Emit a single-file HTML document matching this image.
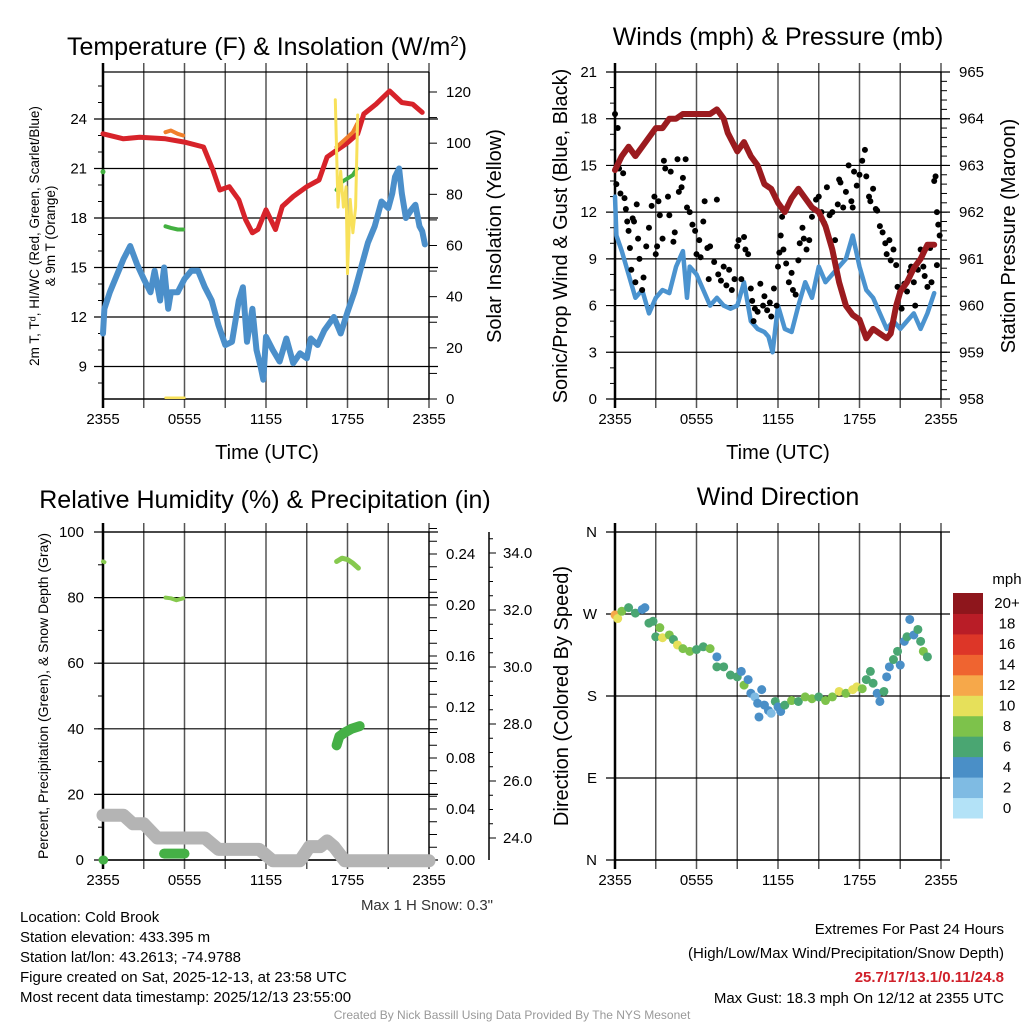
<!DOCTYPE html>
<html><head><meta charset="utf-8"><style>
body{margin:0;background:#fff}
svg{display:block;font-family:"Liberation Sans",Arial,sans-serif}
</style></head><body>
<svg id="fig" width="1024" height="1024" viewBox="0 0 1024 1024" xmlns="http://www.w3.org/2000/svg">
<rect width="1024" height="1024" fill="#fff"/>
<g id="layer"></g>
</svg>
<script>
// ---------- DATA ----------
const xTickLabels = ["2355","0555","1155","1755","2355"];
// Panel 1: temperature
const tempHours = [0,1.5,2.7,4.6,6,7.4,8.1,8.6,9.3,10,10.5,11,11.4,12,12.7,13.2,14,15,15.9,16.5,17.2,17.9,18.75,19.2,20.1,21.1,22,22.8,23.5];
const tempVals  = [23.1,22.8,22.9,22.8,22.6,22.3,20.9,19.7,19.9,19.1,17.9,17.1,17.3,18.5,17.3,18.7,19.3,19.9,20.3,21.7,22.1,22.5,23.1,24.3,24.9,25.7,25.0,24.9,24.4];
const dewHours = [0,0.1,0.5,1,1.5,2,2.5,3,3.5,3.8,4.2,4.5,4.8,5,5.5,6,6.5,7,7.5,8,8.5,9,9.5,10,10.3,10.6,11,11.3,11.6,11.8,12,12.5,13,13.5,14,14.5,15,15.3,15.8,16.3,17,17.5,18,18.5,19,19.5,20,20.5,21,21.3,21.5,21.8,22,22.3,22.7,23,23.3,23.5,23.7];
const dewVals  = [11.0,12.5,13.5,14.5,15.5,16.3,15.2,14.3,13.5,14.8,13.0,15.0,12.5,13.5,13.5,14.3,14.8,14.8,13.8,13.0,11.5,10.3,10.5,13.0,13.8,10.5,12.5,10.0,9.0,8.2,10.8,10.0,9.3,10.7,9.2,9.8,9.5,10.7,10.3,11.2,12.0,11.0,12.3,13.5,15.0,16.5,17.5,19.0,18.6,19.5,20.5,21.0,19.5,18.0,18.5,18.8,17.5,17.2,16.4];
const hiwcHours1 = [4.6,5.0,5.5,5.9];
const hiwcVals1  = [17.5,17.4,17.3,17.3];
const hiwcHours2 = [17.2,17.6,18.0,18.4,18.7];
const hiwcVals2  = [19.7,20.2,20.4,20.6,21.0];
const t9Hours1 = [4.6,5.0,5.5,5.9];
const t9Vals1  = [23.2,23.3,23.1,23.0];
const t9Hours2 = [17.2,17.6,18.0,18.4,18.7];
const t9Vals2  = [22.3,22.6,22.9,23.2,23.7];
const solHours = [4.6,6.0,17.1,17.3,17.5,17.7,17.9,18.0,18.2,18.4,18.6,18.75];
const solVals  = [0.5,0.5,117,75,89,75,83,49,78,65,75,111];
// Panel 2: winds & pressure
const presHours = [0,0.5,1,1.5,2,2.5,3,3.5,4,4.5,5,6,7,7.5,8,8.3,9,9.5,10,10.5,11,11.5,12,12.5,13,13.5,14,14.5,15,15.5,16,16.5,17,17.5,18,18.5,19,19.5,20,20.3,20.7,21,21.5,22,22.5,23,23.5];
const presVals  = [962.9,963.2,963.4,963.2,963.4,963.6,963.8,963.8,964.0,964.0,964.1,964.1,964.1,964.2,964.0,963.7,963.3,963.5,963.2,963.0,962.6,962.5,962.2,962.0,962.3,962.5,962.3,962.1,962.0,961.7,961.2,960.5,960.0,959.8,959.7,959.3,959.5,959.4,959.3,959.4,960.0,960.3,960.5,960.8,961.0,961.3,961.3];
const windHours = [0,0.1,0.5,1,1.5,2,2.5,3,3.5,4,4.5,5,5.3,5.5,6,6.5,7,7.5,8,8.5,9,9.5,10,10.5,11,11.3,11.6,12,12.5,13,13.5,14,14.5,15,15.5,16,16.5,17,17.5,18,18.5,19,19.5,20,20.5,21,21.5,22,22.5,23,23.5];
const windVals  = [13,10.5,9.5,8,6.5,7,5.5,6.5,7,6.8,8.5,9.5,6.5,8.5,8.0,7.0,6.0,6.5,6,5.8,6.0,7.5,5.0,4.5,4.3,4.0,3.0,6.0,4.5,4.3,6.0,7.5,6.5,8.5,7.5,8.0,8.5,9.0,10.5,8.5,7.0,6.5,5.5,4.5,5.0,4.5,5.0,5.5,4.5,5.5,6.8];
const gustHours = [0,0.2,0.1,0.3,0.4,0.6,0.7,0.8,0.9,1.0,1.1,1.2,1.3,1.4,1.5,1.6,1.7,1.8,2.0,2.1,2.3,2.5,2.7,2.9,3.0,3.1,3.2,3.3,3.5,3.6,3.7,3.9,4.0,4.1,4.3,4.4,4.6,4.7,4.9,5.0,5.2,5.3,5.5,5.7,5.9,6.0,6.2,6.3,6.5,6.6,6.8,6.9,7.0,7.3,7.5,7.6,7.8,8.0,8.2,8.4,8.6,8.8,9.0,9.1,9.3,9.5,9.6,9.8,10.0,10.1,10.2,10.3,10.5,10.7,10.9,11.0,11.2,11.4,11.5,11.7,11.9,12.0,12.1,12.2,12.3,12.4,12.6,12.8,13.0,13.1,13.3,13.5,13.6,13.8,13.9,14.1,14.3,14.5,14.8,15.0,15.2,15.4,15.6,15.8,16.0,16.2,16.4,16.5,16.6,16.8,17.0,17.2,17.4,17.5,17.6,17.8,18.0,18.2,18.4,18.5,18.7,18.8,19.0,19.2,19.3,19.5,19.7,19.9,20.0,20.2,20.3,20.5,20.7,20.8,21.0,21.1,21.3,21.5,21.7,21.8,22.0,22.1,22.3,22.5,22.7,22.8,23.0,23.2,23.3,23.5,23.6,23.7,23.7,23.8,23.9];
const gustVals  = [18.3,17.4,13.8,14.8,13.2,14.5,12.9,12.2,11.4,10.8,9.7,8.3,11.6,11.4,7.5,12.5,10.3,9.0,7.0,7.8,9.8,11.0,12.4,13.0,9.3,9.8,12.7,11.8,10.3,15.3,14.8,13.0,11.8,14.6,10.1,10.7,15.4,13.3,13.6,14.2,15.4,12.3,12.0,11.2,10.8,9.3,10.2,9.1,11.4,12.7,9.7,7.7,9.8,8.8,12.8,8.0,7.6,8.5,7.3,8.3,7.0,7.7,9.8,10.2,7.7,10.4,9.6,9.3,7.1,6.3,5.0,5.8,5.6,7.4,6.0,6.6,5.7,6.2,5.3,7.1,6.0,8.5,9.4,10.5,11.7,9.6,8.7,7.5,8.1,7.0,6.7,8.9,10.0,11.0,10.3,9.6,10.2,11.7,12.8,13.0,12.0,11.3,13.6,11.8,12.0,10.2,12.5,14.1,13.9,12.3,13.3,15.0,12.7,12.3,14.6,13.7,14.4,15.3,16.0,14.3,13.0,12.7,13.5,12.2,12.1,11.1,10.7,10.0,9.3,10.2,8.9,9.6,8.6,7.2,6.9,5.8,7.4,6.9,8.2,8.5,7.5,6.0,8.3,9.6,8.5,7.9,7.2,9.7,7.5,14.0,14.3,12.0,8.6,11.2,10.5];
// Panel 3: RH / precip / snow depth
const rhHours1 = [0,0.1];
const rhVals1  = [91,90.8];
const rhHours2 = [4.6,5.0,5.4,5.9];
const rhVals2  = [80,79.8,79.2,79.8];
const rhHours3 = [17.2,17.6,18.0,18.4,18.8];
const rhVals3  = [91,92,91.6,90.5,89];
const precipHours1 = [0,0.05];
const precipVals1  = [0,0];
const precipHours2 = [4.5,6.0];
const precipVals2  = [0.005,0.005];
const precipHours3 = [17.2,17.4,17.8,18.3,18.9];
const precipVals3  = [0.090,0.097,0.100,0.103,0.105];
const snowHours = [0,1.5,2.2,3,4,5,7.5,8.5,11.5,12.5,14.5,15.2,16,16.5,17,17.8,24];
const snowVals  = [24.8,24.8,24.5,24.5,24.0,24.0,24.0,23.6,23.6,23.2,23.2,23.7,23.7,23.9,23.7,23.2,23.2];
// Panel 4: wind direction
const dirHours = [0,0.2,0.5,1,1.5,2,2.2,2.5,2.8,3,3.3,3.5,4,4.3,4.6,5,5.5,6,6.5,7,7.5,7.5,8,8.5,9,9.3,9.5,9.8,10,10.3,10.5,10.6,10.8,11,11.3,11.5,11.8,12,12.2,12.5,13,13.5,14,14.5,15,15.5,16,16.5,17,17.5,17.8,18.2,18.5,18.8,19,19.3,19.5,19.8,20,20.2,20.5,20.8,21,21.3,21.5,21.7,22,22.3,22.5,22.7,23];
const dirVals  = [269,265,273,277,271,275,277,260,262,245,255,244,247,242,236,232,229,231,234,232,223,212,212,203,201,207,192,198,183,179,172,157,187,170,164,161,174,168,163,170,175,174,179,177,179,175,179,185,183,187,190,188,198,207,194,183,174,185,201,212,220,229,214,240,245,264,247,253,240,229,223];
const dirSpeeds = [12,10,8,7,6,5,4,6,7,6,8,10,8,6,10,8,8,6,6,8,4,6,6,6,6,4,8,4,4,3,4,4,4,4,4,2,6,4,4,6,8,6,8,8,6,8,8,10,8,10,10,8,6,6,6,4,4,6,4,4,6,6,4,4,6,4,4,6,6,8,6];
const cbLabels = ["0","2","4","6","8","10","12","14","16","18","20+"];
const cbColors = ["#b3e2f7","#7fbbe3","#4a8fc7","#4aa672","#7dc24b","#e6e05a","#f6a84a","#ef6430","#dd3628","#b91d27","#8e161c"];

// ---------- DRAWING ----------
const NS="http://www.w3.org/2000/svg";
const layer=document.getElementById('layer');
function el(tag,attrs,parent,text){const e=document.createElementNS(NS,tag);for(const k in attrs)e.setAttribute(k,attrs[k]);if(text!==undefined)e.textContent=text;(parent||layer).appendChild(e);return e;}
function lin(d0,d1,r0,r1){return v=>r0+(v-d0)/(d1-d0)*(r1-r0);}
function pts(hs,vs,xf,yf){return hs.map((h,i)=>xf(h).toFixed(1)+","+yf(vs[i]).toFixed(1)).join(" ");}

function frame(x0,x1,yT,yB,hLines,name){
  const g=el('g',{});
  
  
  for(let k=0;k<=8;k++){const x=x0+k*(x1-x0)/8;
    el('line',{x1:x,y1:yT-9,x2:x,y2:yB+9,stroke:k==0?'#000':'#555','stroke-width':k==0?2.5:1.5},g);}
  hLines.forEach(y=>el('line',{x1:x0-9,y1:y,x2:x1+9,y2:y,stroke:'#000','stroke-width':1.2},g));
  el('line',{x1:x0,y1:yT,x2:x1,y2:yT,stroke:'#000','stroke-width':1.2},g);
  el('line',{x1:x0,y1:yB,x2:x1,y2:yB,stroke:'#000','stroke-width':1.5},g);
  el('line',{x1:x1,y1:yT,x2:x1,y2:yB,stroke:'#000','stroke-width':1.2},g);
  xTickLabels.forEach((t,k)=>{const tx=el('text',{x:x0+k*(x1-x0)/4,y:yB+25,'font-size':15,'text-anchor':'middle'},g,t);
    
    });
}
function ytext(x,y,t,anchor,size,name){const e=el('text',{x:x,y:y+5,'font-size':size||15,'text-anchor':anchor||'end'},layer,t);
  
  return e;}
function rotText(x,y,t,size,name){const e=el('text',{x:x,y:y,'font-size':size,'text-anchor':'middle',transform:`rotate(-90 ${x} ${y})`},layer,t);
  
  return e;}
function minor(x,yf,vals,len){vals.forEach(v=>el('line',{x1:x,y1:yf(v),x2:x+len,y2:yf(v),stroke:'#000','stroke-width':1}));}
function poly(p,color,w,name){const e=el('polyline',{points:p,fill:'none',stroke:color,'stroke-width':w,'stroke-linejoin':'round','stroke-linecap':'round'});
  
  return e;}
function title(x,y,t,name){const e=el('text',{x:x,y:y,'font-size':25,'text-anchor':'middle'},layer,t);
  
  return e;}
function range(a,b,s){const r=[];for(let v=a;v<=b+1e-9;v+=s)r.push(+v.toFixed(4));return r;}

// ===== Panel 1 =====
{const x0=103,x1=429,yT=72,yB=399;
 const X=lin(0,24,x0,x1), Y=lin(24,18,119,218), YS=lin(0,120,399,92);
 frame(x0,x1,yT,yB,[9,12,15,18,21,24].map(Y),'temperature-panel');
 minor(x0,Y,range(8,26,1),-5); minor(x1,YS,range(0,125,10),8);
 [9,12,15,18,21,24].forEach(v=>ytext(87,Y(v),String(v)));
 [0,20,40,60,80,100,120].forEach(v=>ytext(446,YS(v),String(v),'start',15,'right-y-tick-label'));
 const t=title(267,55,'Temperature (F) & Insolation (W/m','panel-title-temperature');
 el('tspan',{'font-size':15,dy:-9},t,'2'); el('tspan',{dy:9},t,')');
 poly(pts(dewHours,dewVals,X,Y),'#4b8fca',6,'dewpoint-line');
 poly(pts(tempHours,tempVals,X,Y),'#d7232a',5,'temperature-line');
 poly(pts(t9Hours1,t9Vals1,X,Y),'#f07f2c',4,'temp-9m-line');
 poly(pts(t9Hours2,t9Vals2,X,Y),'#f07f2c',4,'temp-9m-line');
 poly(pts(hiwcHours1,hiwcVals1,X,Y),'#43b040',4,'windchill-line');
 poly(pts(hiwcHours2,hiwcVals2,X,Y),'#43b040',4,'windchill-line');
 const c=el('circle',{cx:X(0),cy:Y(20.8),r:2.5,fill:'#43b040'});
 
 
 poly(pts(solHours.slice(0,2),solVals.slice(0,2),X,YS),'#f8e15a',2.5,'insolation-line');
 poly(pts(solHours.slice(2),solVals.slice(2),X,YS),'#f8e15a',3,'insolation-line');
 const xt=el('text',{x:267,y:459,'font-size':20,'text-anchor':'middle'},layer,'Time (UTC)');
 
 
 rotText(39,236,'2m T, T\u1d48, HI/WC (Red, Green, Scarlet/Blue)',13.5,'left-y-axis-title');
 rotText(55,236,'& 9m T (Orange)',13.5,'left-y-axis-title-line2');
 rotText(501,236,'Solar Insolation (Yellow)',20,'right-y-axis-title');
}
// ===== Panel 2 =====
{const x0=615,x1=941,yT=72,yB=399;
 const X=lin(0,24,x0,x1), Y=lin(0,21,399,72), YP=lin(958,965,399,72);
 frame(x0,x1,yT,yB,[0,3,6,9,12,15,18,21].map(Y),'winds-panel');
 minor(x0,Y,range(0,21,1),-5); minor(x1,YP,range(958,965,0.2),6);
 [0,3,6,9,12,15,18,21].forEach(v=>ytext(597,Y(v),String(v)));
 [958,959,960,961,962,963,964,965].forEach(v=>ytext(959,YP(v),String(v),'start',15,'right-y-tick-label'));
 title(778,45,'Winds (mph) & Pressure (mb)','panel-title-winds');
 poly(pts(windHours,windVals,X,Y),'#4b93cf',4.5,'wind-speed-line');
 gustHours.forEach((h,i)=>{const d=el('circle',{cx:X(h),cy:Y(gustVals[i]),r:3,fill:'#000'});
   
   });
 poly(pts(presHours,presVals,X,YP),'#9b1b1f',6,'pressure-line');
 const xt=el('text',{x:778,y:459,'font-size':20,'text-anchor':'middle'},layer,'Time (UTC)');
 
 
 rotText(567,236,'Sonic/Prop Wind & Gust (Blue, Black)',20,'left-y-axis-title');
 rotText(1015,236,'Station Pressure (Maroon)',20,'right-y-axis-title');
}
// ===== Panel 3 =====
{const x0=103,x1=429,yT=532,yB=860;
 const X=lin(0,24,x0,x1), Y=lin(0,100,860,532), YR=lin(0,0.24,860,554), YSn=lin(24,34,838,553);
 frame(x0,x1,yT,yB,[0,20,40,60,80,100].map(Y),'humidity-panel');
 minor(x0,Y,range(0,100,10),-5); minor(x1,YR,range(0,0.26,0.01),8);
 [0,20,40,60,80,100].forEach(v=>ytext(84,Y(v),String(v)));
 [0,0.04,0.08,0.12,0.16,0.20,0.24].forEach(v=>ytext(446,YR(v),v.toFixed(2),'start',15,'precip-tick-label'));
 const ax=el('line',{x1:489,y1:532,x2:489,y2:860,stroke:'#000','stroke-width':1.5});
 
 
 minor(489,YSn,range(24,34.6,0.5),4);
 [24,26,28,30,32,34].forEach(v=>{el('line',{x1:489,y1:YSn(v),x2:496,y2:YSn(v),stroke:'#000','stroke-width':1});
   ytext(503,YSn(v),v.toFixed(1),'start',15,'snow-tick-label');});
 title(265,508,'Relative Humidity (%) & Precipitation (in)','panel-title-humidity');
 poly(pts(snowHours,snowVals,X,YSn),'#b4b4b4',13,'snow-depth-line');
 poly(pts(rhHours1,rhVals1,X,Y),'#86c94e',4,'rh-line');
 poly(pts(rhHours2,rhVals2,X,Y),'#86c94e',4,'rh-line');
 poly(pts(rhHours3,rhVals3,X,Y),'#86c94e',5,'rh-line');
 poly(pts(precipHours1,precipVals1,X,YR),'#45b046',9,'precip-line');
 poly(pts(precipHours2,precipVals2,X,YR),'#45b046',10,'precip-line');
 poly(pts(precipHours3,precipVals3,X,YR),'#45b046',10,'precip-line');
 rotText(48,696,'Percent, Precipitation (Green), & Snow Depth (Gray)',14,'left-y-axis-title');
 const ms=el('text',{x:493,y:910,'font-size':15,'text-anchor':'end',fill:'#333'},layer,'Max 1 H Snow: 0.3"');
 
 
}
// ===== Panel 4 =====
{const x0=615,x1=941,yT=532,yB=860;
 const X=lin(0,24,x0,x1), Y=lin(0,360,860,532);
 frame(x0,x1,yT,yB,[0,90,180,270,360].map(Y),'direction-panel');
 ['N','E','S','W','N'].forEach((t,k)=>ytext(597,Y(k*90),t,'end',15,'direction-tick-label'));
 title(778,505,'Wind Direction','panel-title-direction');
 dirHours.forEach((h,i)=>{const idx=Math.min(10,Math.floor(dirSpeeds[i]/2));
   const d=el('circle',{cx:X(h),cy:Y(dirVals[i]),r:4.5,fill:cbColors[idx]});
   
   });
 rotText(568,696,'Direction (Colored By Speed)',20,'left-y-axis-title');
 const bh=(818-593)/11;
 cbColors.forEach((c,k)=>{const r=el('rect',{x:953,y:818-(k+1)*bh,width:30,height:bh+0.5,fill:c});
   
   
   ytext(1007,818-(k+0.5)*bh,cbLabels[k],'middle',15,'colorbar-label');});
 ytext(1007,579,'mph','middle',15,'colorbar-title');
}
// ===== Footer text =====
const leftLines=["Location: Cold Brook","Station elevation: 433.395 m","Station lat/lon: 43.2613; -74.9788","Figure created on Sat, 2025-12-13, at 23:58 UTC","Most recent data timestamp: 2025/12/13 23:55:00"];
leftLines.forEach((t,k)=>{const e=el('text',{x:20,y:922+k*20,'font-size':15},layer,t);
  
  });
const rl=[["Extremes For Past 24 Hours",934,'#000','normal'],["(High/Low/Max Wind/Precipitation/Snow Depth)",958,'#000','normal'],["25.7/17/13.1/0.11/24.8",982,'#d0202a','bold'],["Max Gust: 18.3 mph On 12/12 at 2355 UTC",1003,'#000','normal']];
rl.forEach(a=>{const e=el('text',{x:1004,y:a[1],'font-size':15,'text-anchor':'end',fill:a[2],'font-weight':a[3]},layer,a[0]);
  
  });
const cr=el('text',{x:512,y:1019,'font-size':12,'text-anchor':'middle',fill:'#999'},layer,'Created By Nick Bassill Using Data Provided By The NYS Mesonet');


</script>
</body></html>
